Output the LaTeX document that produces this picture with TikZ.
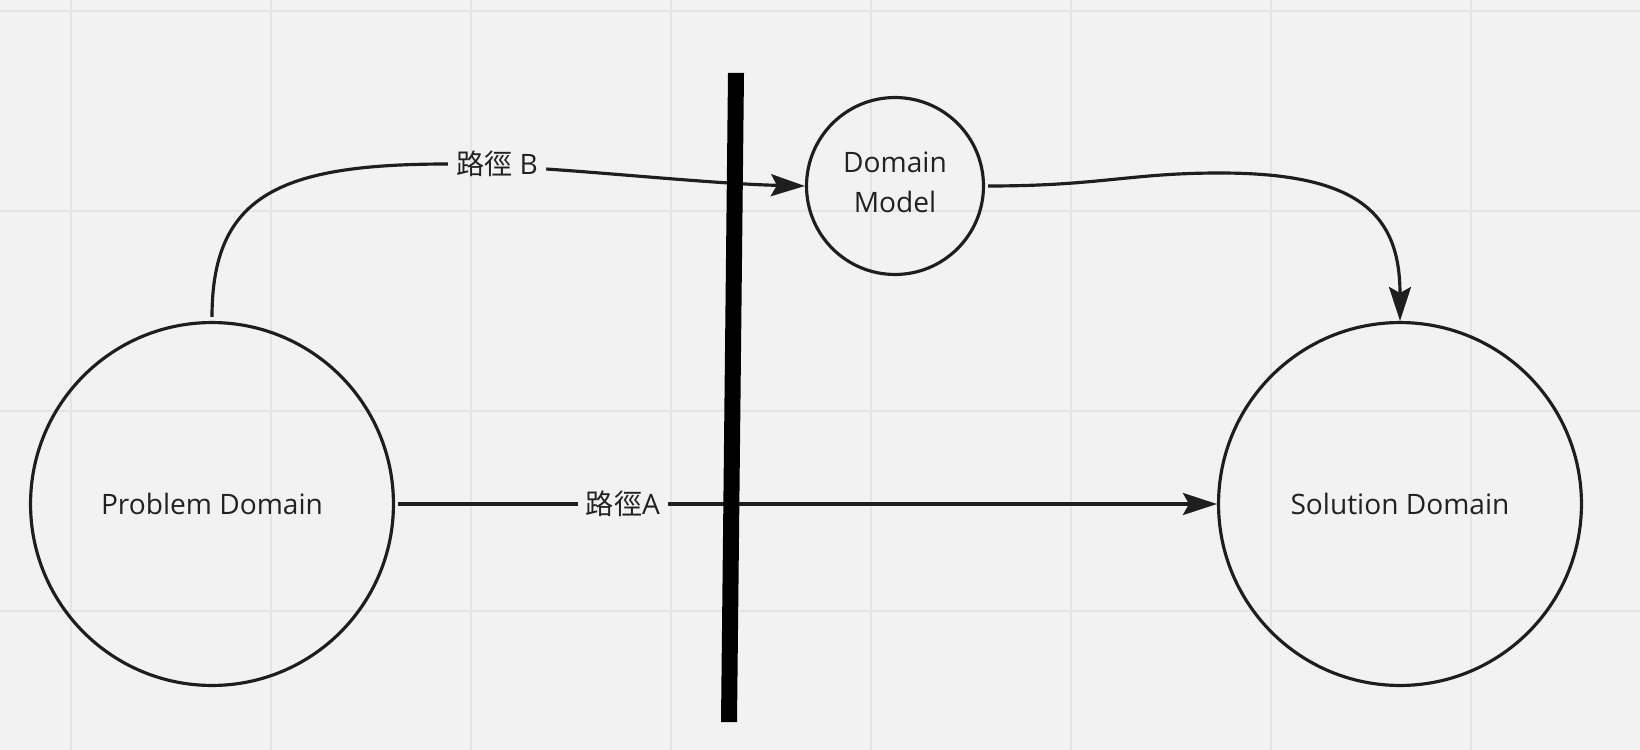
\documentclass[tikz,border=0pt]{standalone}
\usepackage{fontspec}
\setmainfont{Open Sans}
\newfontfamily\cjk{Noto Sans CJK TC}
\usetikzlibrary{arrows.meta}
\definecolor{canvas}{HTML}{F2F2F2}
\definecolor{gridgray}{HTML}{E4E4E4}
\definecolor{ink}{HTML}{1E1E1E}
\definecolor{txt}{HTML}{222222}

\begin{document}
\begin{tikzpicture}[x=0.02cm,y=-0.02cm,
  dom/.style={circle,draw=ink,line width=1.8pt,inner sep=0pt,align=center,text=txt,font=\fontsize{16}{23}\selectfont},
  lbl/.style={inner xsep=0.16cm,inner ysep=2pt,text=txt,font=\fontsize{16}{20}\selectfont},
  ln/.style={line width=1.8pt,ink},
  ar/.style={ln,-{Stealth[length=0.68cm,width=0.44cm,inset=0.12cm]}},
  gl/.style={line width=0.04cm,gridgray}]
\useasboundingbox (0,0) rectangle (1640,750);
% canvas and grid
\fill[canvas] (0,0) rectangle (1640,750);
\foreach \gx in {71,271,...,1471} \draw[gl] (\gx,0) -- (\gx,750);
\foreach \gy in {11,211,411,611} \draw[gl] (0,\gy) -- (1640,\gy);
% domains
\node[dom,minimum size=7.26cm] (pd) at (212,504) {Problem Domain};
\node[dom,minimum size=7.26cm] (sd) at (1400,504) {Solution Domain};
\node[dom,minimum size=3.54cm,text depth=4.6pt] (dm) at (895,186) {Domain\\Model};
% path labels
\node[lbl] (pa) at (623,504) {{\cjk 路徑}A};
\node[lbl] (pb) at (497,164) {{\cjk 路徑} B};
% connectors
\draw[ln] ([xshift=0.06cm]pd.east) -- (pa.west);
\draw[ar] (pa.east) -- (sd.west);
\draw[ln] ([yshift=0.08cm]pd.north) .. controls (212,195) and (280,164) .. (pb.west);
\draw[ar] ([yshift=-0.1cm]pb.east) .. controls (620,174) and (720,184) .. (dm.west);
\draw[ar] ([xshift=0.06cm]dm.east) .. controls (1100,186) and (1130,173) .. (1220,173)
  .. controls (1360,173) and (1400,215) .. (sd.north);
% the wall
\fill[black] (728,73) -- (744,73) -- (737,722) -- (721,722) -- cycle;
\end{tikzpicture}
\end{document}
